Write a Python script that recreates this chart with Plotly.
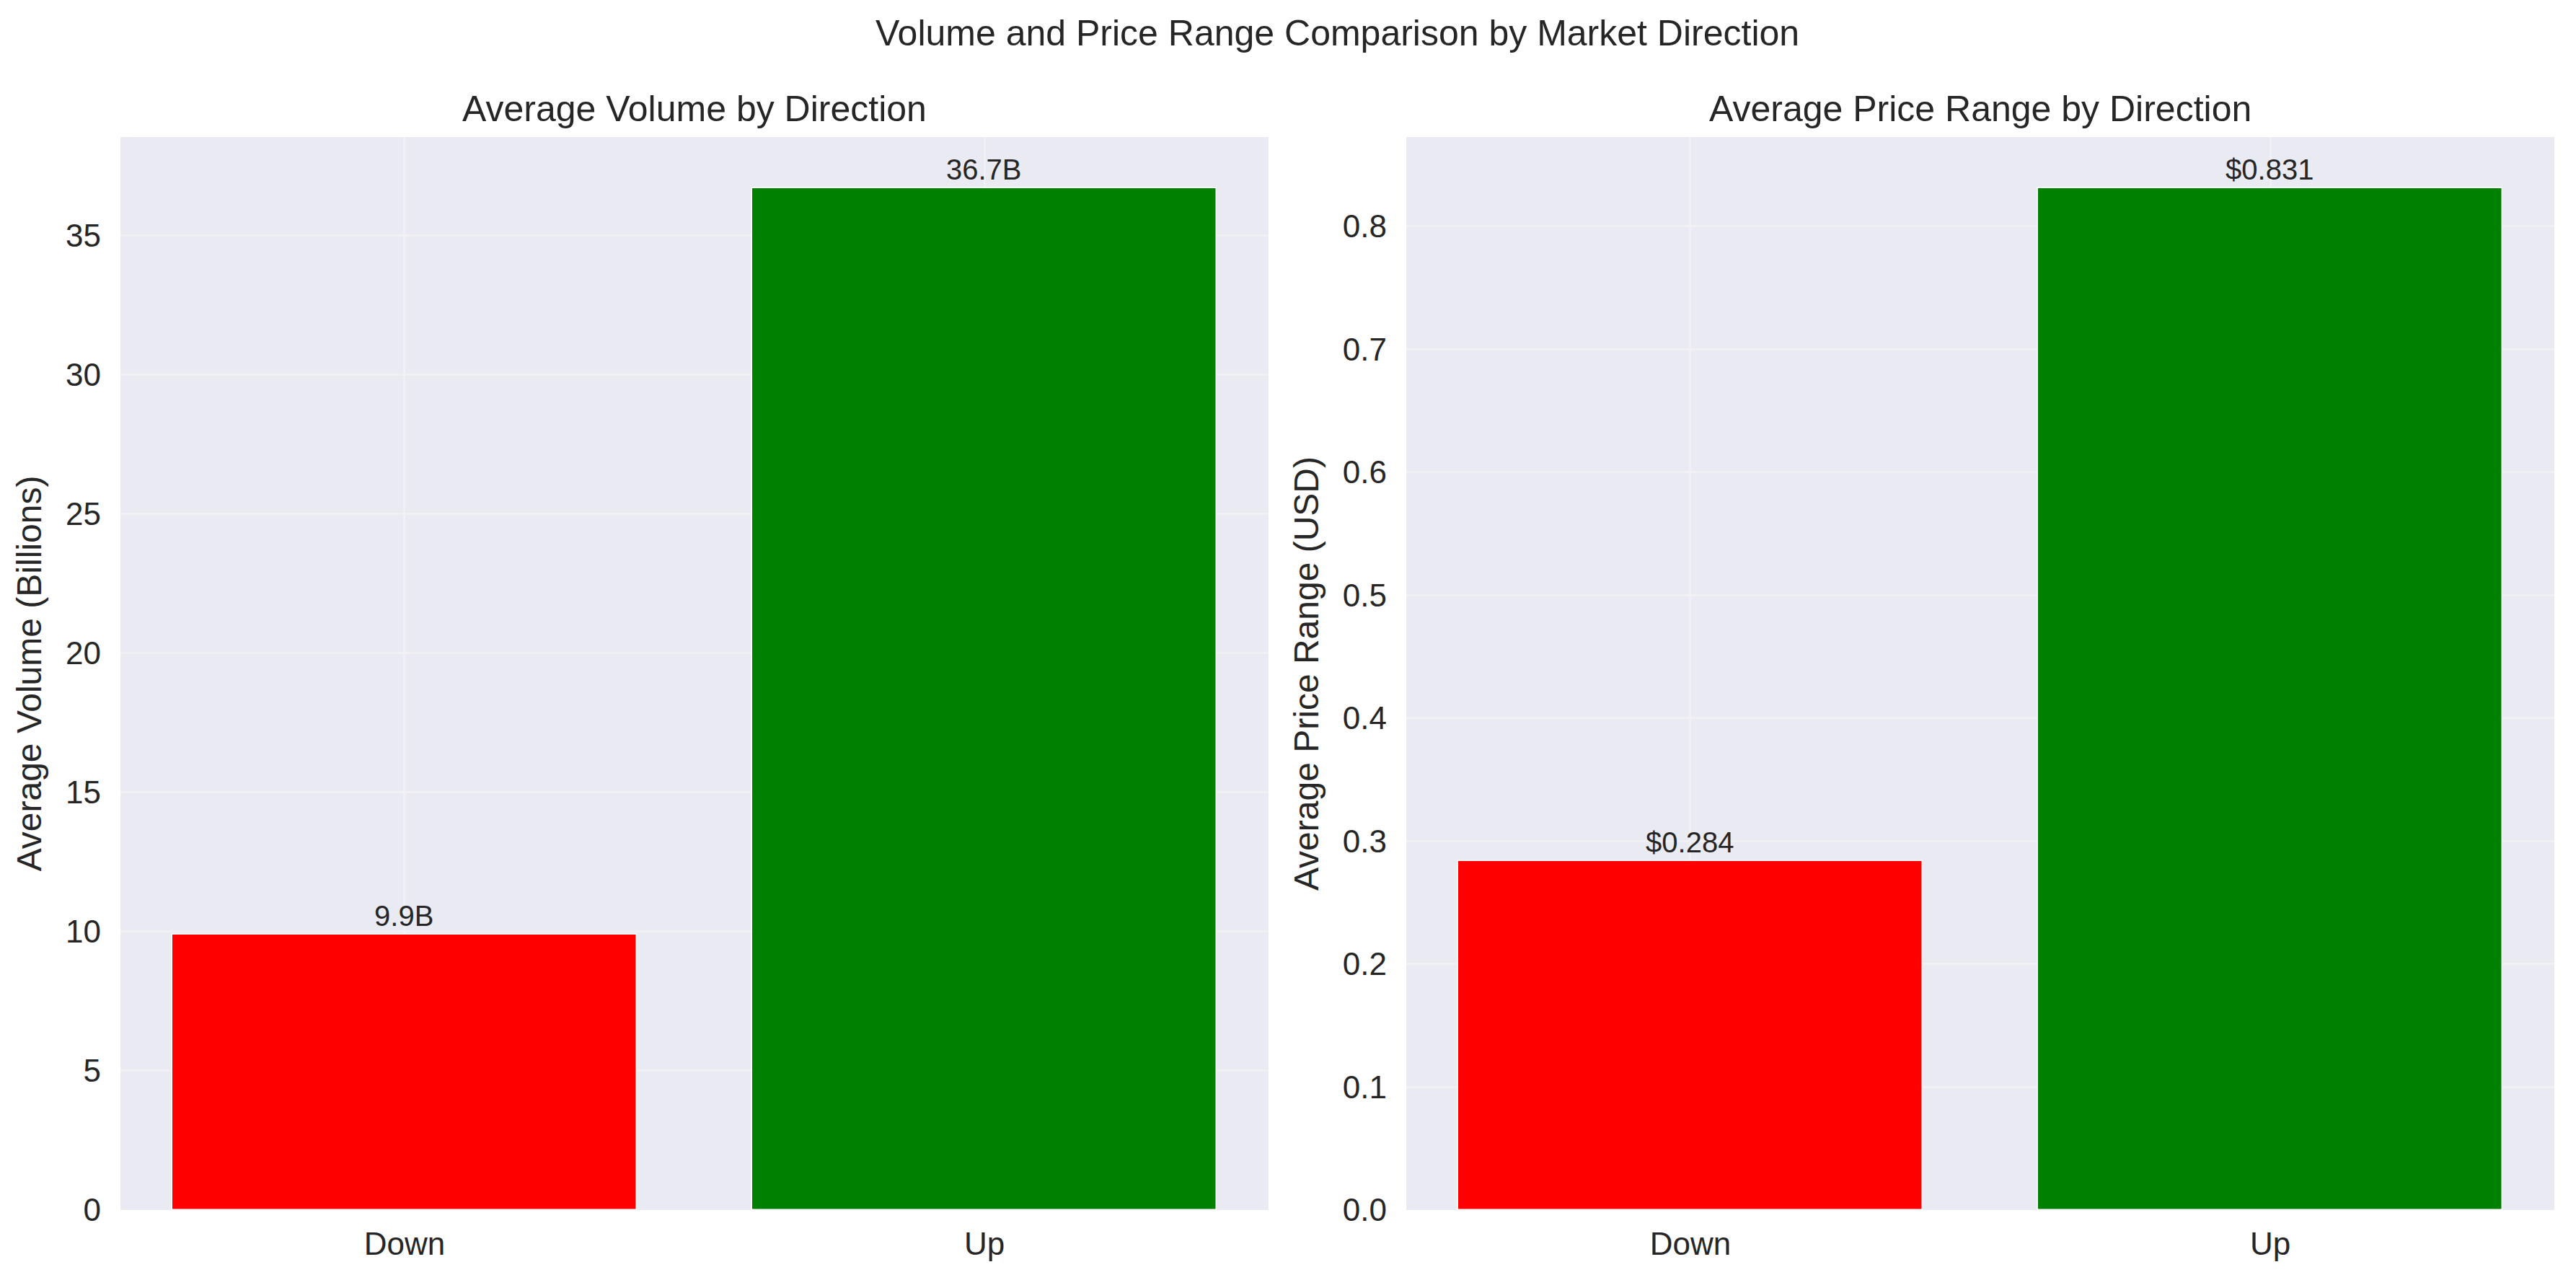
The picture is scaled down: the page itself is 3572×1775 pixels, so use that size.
import plotly.graph_objects as go
from plotly.subplots import make_subplots

directions = ["Down", "Up"]
avg_volume_b = [9.9, 36.7]
avg_price_range = [0.284, 0.831]
volume_labels = ["9.9B", "36.7B"]
price_labels = ["$0.284", "$0.831"]
bar_colors = ["#ff0000", "#008000"]

OFF = 8  # default body margin of the page
W, H = 3572 - 2 * OFF, 1775 - 2 * OFF
L, T = 167 - OFF, 190 - OFF
R = W + OFF - 3542
B = H + OFF - 1678
pw = W - L - R
d1 = 1592 / pw
d2 = (1950 - 167) / pw

TXT = "#262626"
FONT = "Liberation Sans, Arial, sans-serif"
BG = "#eaeaf2"
GRID = "#f0f0f5"

fig = make_subplots(rows=1, cols=2)

fig.add_trace(go.Bar(x=directions, y=avg_volume_b, marker=dict(color=bar_colors, line=dict(color="white", width=1.5)),
                     width=0.8, text=volume_labels, textposition="outside", cliponaxis=False,
                     textfont=dict(size=40, color=TXT, family=FONT), showlegend=False), row=1, col=1)
fig.add_trace(go.Bar(x=directions, y=avg_price_range, marker=dict(color=bar_colors, line=dict(color="white", width=1.5)),
                     width=0.8, text=price_labels, textposition="outside", cliponaxis=False,
                     textfont=dict(size=40, color=TXT, family=FONT), showlegend=False), row=1, col=2)

axis_common = dict(showline=False, zeroline=False, showgrid=True, gridcolor=GRID, gridwidth=2.5,
                   tickfont=dict(size=44, color=TXT, family=FONT), ticks="", automargin=False)

fig.update_layout(
    width=W, height=H, margin=dict(l=L, r=R, t=T, b=B),
    paper_bgcolor="white", plot_bgcolor=BG,
    font=dict(family=FONT, color=TXT),
    bargap=0,
    xaxis=dict(domain=[0, d1], range=[-0.49, 1.49], ticklabelstandoff=17, **axis_common),
    xaxis2=dict(domain=[d2, 1], range=[-0.49, 1.49], ticklabelstandoff=17, **axis_common),
    yaxis=dict(range=[0, 36.7 * 1.05], tickvals=[0, 5, 10, 15, 20, 25, 30, 35], ticklabelstandoff=26,
               title=dict(text="Average Volume (Billions)", font=dict(size=48, color=TXT, family=FONT), standoff=18),
               **axis_common),
    yaxis2=dict(range=[0, 0.831 * 1.05], tickvals=[0, 0.1, 0.2, 0.3, 0.4, 0.5, 0.6, 0.7, 0.8], tickformat=".1f",
                ticklabelstandoff=26,
                title=dict(text="Average Price Range (USD)", font=dict(size=48, color=TXT, family=FONT), standoff=18),
                **axis_common),
    annotations=[
        dict(text="Volume and Price Range Comparison by Market Direction", x=0.5, xref="paper", xanchor="center",
             y=1, yref="paper", yanchor="middle",
             showarrow=False, font=dict(size=50, color=TXT, family=FONT)),
        dict(text="Average Volume by Direction", x=d1 / 2, xref="paper", xanchor="center", y=1, yref="paper",
             yanchor="bottom", yshift=9, showarrow=False, font=dict(size=50, color=TXT, family=FONT)),
        dict(text="Average Price Range by Direction", x=(d2 + 1) / 2, xref="paper", xanchor="center", y=1,
             yref="paper", yanchor="bottom", yshift=9, showarrow=False, font=dict(size=50, color=TXT, family=FONT)),
    ],
)
plot_h = H - T - B
fig.layout.annotations[0].y = 1 + (190 - 46) / plot_h

fig.write_html("out.html")
